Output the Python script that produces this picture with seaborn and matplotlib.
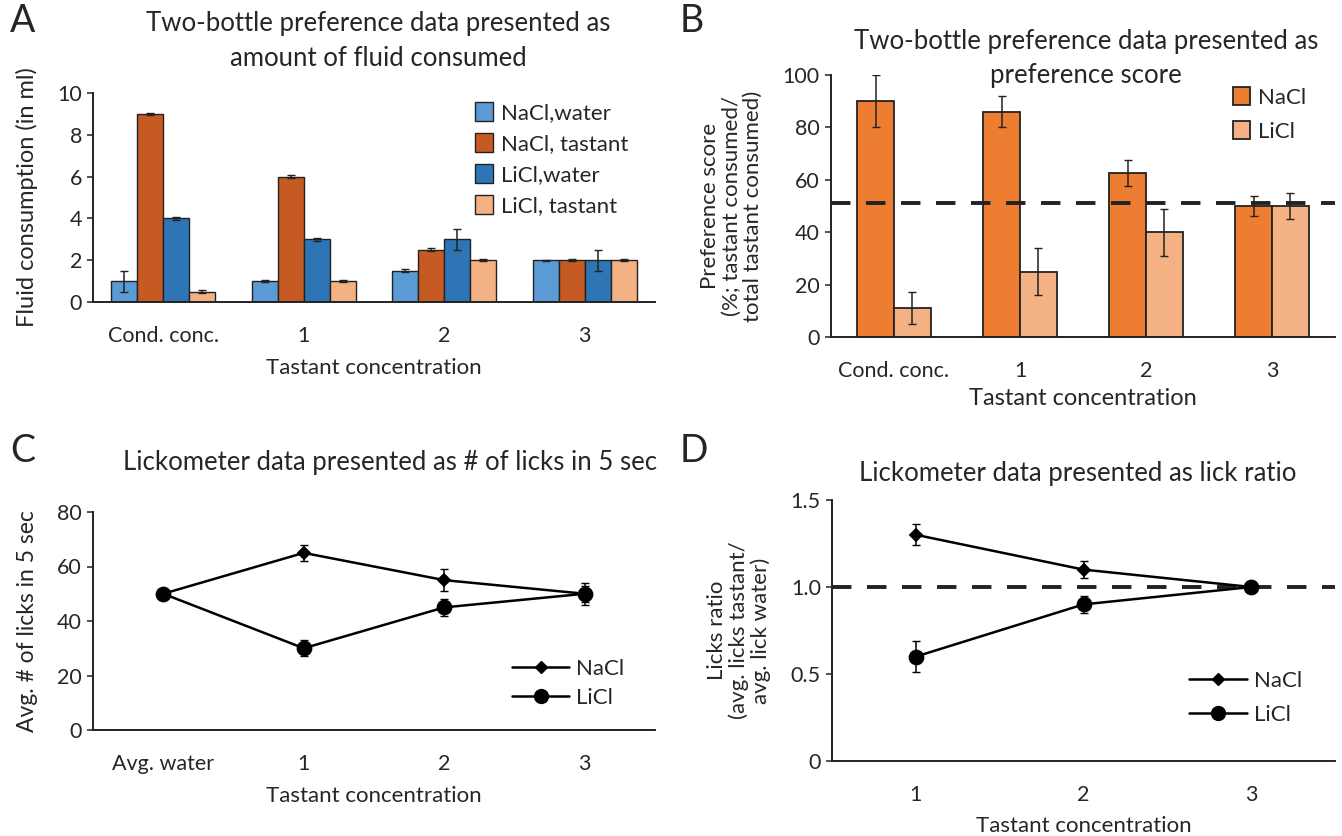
import numpy as np
import pandas as pd
import matplotlib
matplotlib.use("Agg")
import matplotlib.pyplot as plt
from matplotlib.lines import Line2D
from matplotlib.patches import Patch
import seaborn as sns

sns.set_style("white")
plt.rcParams['font.family'] = ['Lato', 'DejaVu Sans']

# Panel A - fluid consumed (ml)
conc_a = ['Cond. conc.', '1', '2', '3']
series_a = ['NaCl, water', 'NaCl, tastant', 'LiCl, water', 'LiCl, tastant']
legend_a = ['NaCl,water', 'NaCl, tastant', 'LiCl,water', 'LiCl, tastant']
nacl_water = [1.0, 1.0, 1.5, 2.0]
nacl_water_err = [0.5, 0.05, 0.06, 0.03]
nacl_tastant = [9.0, 6.0, 2.5, 2.0]
nacl_tastant_err = [0.06, 0.06, 0.06, 0.06]
licl_water = [4.0, 3.0, 3.0, 2.0]
licl_water_err = [0.06, 0.06, 0.5, 0.5]
licl_tastant = [0.5, 1.0, 2.0, 2.0]
licl_tastant_err = [0.06, 0.06, 0.06, 0.06]
colors_a = ['#5B9BD5', '#C55A22', '#2E75B6', '#F4B183']

# Panel B - preference score (%)
conc_b = ['Cond. conc.', '1', '2', '3']
salts = ['NaCl', 'LiCl']
pref_nacl = [90, 86, 62.5, 50]
pref_nacl_err = [10, 6, 5, 4]
pref_licl = [11, 25, 40, 50]
pref_licl_err = [6, 9, 9, 5]
pref_neutral = 51
colors_b = ['#ED7D31', '#F4B183']

# Panel C - licks in 5 sec
conc_c = ['Avg. water', '1', '2', '3']
licks_nacl = [50, 65, 55, 50]
licks_nacl_err = [1, 3, 4, 4]
licks_licl = [50, 30, 45, 50]
licks_licl_err = [1, 3, 3, 3]

# Panel D - lick ratio
conc_d = ['1', '2', '3']
ratio_nacl = [1.3, 1.1, 1.0]
ratio_nacl_err = [0.06, 0.05, 0.03]
ratio_licl = [0.6, 0.9, 1.0]
ratio_licl_err = [0.09, 0.05, 0.03]
ratio_neutral = 1.0

W, H = 1342, 836
fig = plt.figure(figsize=(W / 100, H / 100), dpi=100)


def px_axes(l, r, t, b):
    return fig.add_axes([l / W, 1 - b / H, (r - l) / W, (b - t) / H])


def style(ax):
    sns.despine(ax=ax)
    for s in ['left', 'bottom']:
        ax.spines[s].set_color('#222222')
        ax.spines[s].set_linewidth(1.4)
    ax.tick_params(axis='y', length=4, width=1.1, color='#222222', labelsize=15.5, pad=4, left=True)
    ax.tick_params(axis='x', length=0, labelsize=15.5, pad=17)
    ax.set_xlim(-0.5, 3.5)


fs = 16
tfs = 18.5
lfs = 15.5
letter = 27

# ---------- A ----------
ax = px_axes(93, 655, 93, 302)
vals = [nacl_water, nacl_tastant, licl_water, licl_tastant]
errs = [nacl_water_err, nacl_tastant_err, licl_water_err, licl_tastant_err]
df_a = pd.DataFrame({
    'conc': conc_a * 4,
    'series': np.repeat(series_a, 4),
    'value': np.concatenate(vals),
})
sns.barplot(data=df_a, x='conc', y='value', hue='series', hue_order=series_a,
            palette=colors_a, width=0.74, edgecolor='#222222', linewidth=1,
            saturation=1, errorbar=None, legend=False, ax=ax)
for cont, e in zip(ax.containers, errs):
    xs = [p.get_x() + p.get_width() / 2 for p in cont]
    hs = [p.get_height() for p in cont]
    ax.errorbar(xs, hs, yerr=e, fmt='none', ecolor='#222222', elinewidth=1.1, capsize=3)
style(ax)
ax.set_ylim(0, 10)
ax.set_yticks([0, 2, 4, 6, 8, 10])
ax.set_xlabel('Tastant concentration', fontsize=fs, labelpad=9)
ax.set_ylabel('Fluid consumption (in ml)', fontsize=fs + 1, labelpad=14)
handles = [Patch(facecolor=c, edgecolor='#222222', linewidth=1) for c in colors_a]
ax.legend(handles, legend_a, loc='upper left', bbox_to_anchor=(0.68, 0.955), frameon=False,
          borderpad=0, borderaxespad=0,
          fontsize=lfs + 0.5, handlelength=0.8, handleheight=0.9, handletextpad=0.35, labelspacing=0.45)
fig.text(378 / W, 1 - 41 / H, 'Two-bottle preference data presented as\namount of fluid consumed',
         ha='center', va='center', fontsize=tfs, linespacing=1.45)
fig.text(10 / W, 1 - 21 / H, 'A', fontsize=letter, ha='left', va='center')

# ---------- B ----------
ax = px_axes(831, 1335, 75, 337)
df_b = pd.DataFrame({
    'conc': conc_b * 2,
    'salt': np.repeat(salts, 4),
    'value': pref_nacl + pref_licl,
})
sns.barplot(data=df_b, x='conc', y='value', hue='salt', hue_order=salts,
            palette=colors_b, width=0.58, edgecolor='#222222', linewidth=1.3,
            saturation=1, errorbar=None, legend=False, ax=ax)
for cont, e in zip(ax.containers, [pref_nacl_err, pref_licl_err]):
    xs = [p.get_x() + p.get_width() / 2 for p in cont]
    hs = [p.get_height() for p in cont]
    ax.errorbar(xs, hs, yerr=e, fmt='none', ecolor='#222222', elinewidth=1.1, capsize=3)
ax.axhline(pref_neutral, color='#222222', lw=2.8, ls=(0, (5, 4)), zorder=5)
style(ax)
ax.set_ylim(0, 100)
ax.set_yticks([0, 20, 40, 60, 80, 100])
ax.set_xlabel('Tastant concentration', fontsize=fs + 1, labelpad=5)
ax.set_ylabel('Preference score\n(%; tastant consumed/\ntotal tastant consumed)', fontsize=fs,
              labelpad=14, linespacing=1.1)
handles = [Patch(facecolor=c, edgecolor='#222222', linewidth=1.3) for c in colors_b]
ax.legend(handles, salts, loc='upper left', bbox_to_anchor=(0.797, 0.955), frameon=False,
          borderpad=0, borderaxespad=0,
          fontsize=lfs + 0.5, handlelength=0.8, handleheight=0.9, handletextpad=0.35, labelspacing=0.6)
fig.text(1086 / W, 1 - 59 / H, 'Two-bottle preference data presented as\npreference score',
         ha='center', va='center', fontsize=tfs, linespacing=1.45)
fig.text(680 / W, 1 - 21 / H, 'B', fontsize=letter, ha='left', va='center')


# ---------- C & D (line plots) ----------
def lines(ax, cats, a, ae, b, be):
    df = pd.DataFrame({'conc': cats * 2, 'salt': np.repeat(salts, len(cats)), 'value': a + b})
    sns.pointplot(data=df[df.salt == 'NaCl'], x='conc', y='value', order=cats, color='black',
                  markers='D', markersize=6.5, linewidth=1.8, errorbar=None, ax=ax)
    sns.pointplot(data=df[df.salt == 'LiCl'], x='conc', y='value', order=cats, color='black',
                  markers='o', markersize=10, linewidth=1.8, errorbar=None, ax=ax)
    xs = np.arange(len(cats))
    ax.errorbar(xs, a, yerr=ae, fmt='none', ecolor='black', elinewidth=1.1, capsize=3, zorder=4)
    ax.errorbar(xs, b, yerr=be, fmt='none', ecolor='black', elinewidth=1.1, capsize=3, zorder=4)
    hs = [Line2D([], [], color='black', lw=1.8, marker='D', markersize=6.5),
          Line2D([], [], color='black', lw=1.8, marker='o', markersize=10)]
    return hs


ax = px_axes(93, 655, 512, 730)
hs = lines(ax, conc_c, licks_nacl, licks_nacl_err, licks_licl, licks_licl_err)
style(ax)
ax.set_ylim(0, 80)
ax.set_yticks([0, 20, 40, 60, 80])
ax.set_xlabel('Tastant concentration', fontsize=fs, labelpad=9)
ax.set_ylabel('Avg. # of licks in 5 sec', fontsize=fs + 0.5, labelpad=14)
ax.legend(hs, salts, loc='upper left', bbox_to_anchor=(0.745, 0.327), frameon=False,
          borderpad=0, borderaxespad=0,
          fontsize=lfs + 0.5, handlelength=2.6, handletextpad=0.3, labelspacing=0.4)
fig.text(390 / W, 1 - 462 / H, 'Lickometer data presented as # of licks in 5 sec',
         ha='center', va='center', fontsize=tfs)
fig.text(10 / W, 1 - 451 / H, 'C', fontsize=letter, ha='left', va='center')

ax = px_axes(832, 1335, 500, 761)
hs = lines(ax, conc_d, ratio_nacl, ratio_nacl_err, ratio_licl, ratio_licl_err)
ax.axhline(ratio_neutral, color='#222222', lw=2.8, ls=(0, (5, 4)), zorder=1)
style(ax)
ax.set_xlim(-0.5, 2.5)
ax.set_ylim(0, 1.5)
ax.set_yticks([0, 0.5, 1.0, 1.5])
ax.set_yticklabels(['0', '0.5', '1.0', '1.5'])
ax.set_xlabel('Tastant concentration', fontsize=fs, labelpad=8)
ax.set_ylabel('Licks ratio\n(avg. licks tastant/\navg. lick water)', fontsize=fs,
              labelpad=14, linespacing=1.1)
ax.legend(hs, salts, loc='upper left', bbox_to_anchor=(0.71, 0.345), frameon=False,
          borderpad=0, borderaxespad=0,
          fontsize=lfs + 0.5, handlelength=2.6, handletextpad=0.3, labelspacing=0.62)
fig.text(1078 / W, 1 - 473 / H, 'Lickometer data presented as lick ratio',
         ha='center', va='center', fontsize=tfs)
fig.text(680 / W, 1 - 451 / H, 'D', fontsize=letter, ha='left', va='center')

fig.savefig('out.png', dpi=100, facecolor='white')
